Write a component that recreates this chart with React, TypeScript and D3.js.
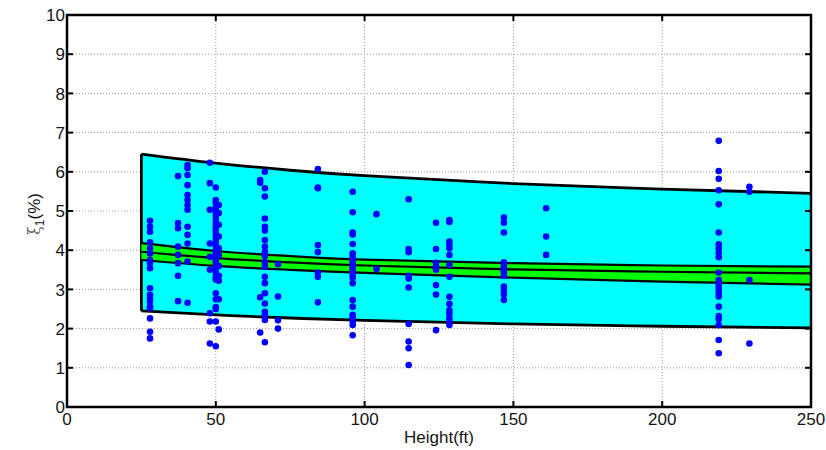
import React from "react";
import * as d3 from "d3";

const xTicks = [0, 50, 100, 150, 200, 250];
const yTicks = [0, 1, 2, 3, 4, 5, 6, 7, 8, 9, 10];

const bandHeights = [25, 50, 75, 100, 150, 200, 250];
const cyanUpper = [6.45, 6.22, 6.04, 5.9, 5.7, 5.56, 5.45];
const cyanLower = [2.45, 2.35, 2.27, 2.21, 2.12, 2.06, 2.02];
const greenUpper = [4.18, 3.98, 3.85, 3.76, 3.67, 3.61, 3.58];
const greenMiddle = [3.96, 3.8, 3.69, 3.61, 3.51, 3.45, 3.41];
const greenLower = [3.75, 3.6, 3.5, 3.42, 3.3, 3.2, 3.12];

// measured points: [height, damping list]
const col28 = [4.75, 4.6, 4.47, 4.2, 4.05, 3.92, 3.75, 3.67, 3.54, 3.03, 2.86, 2.77, 2.69, 2.56, 2.52, 2.26, 1.92, 1.75];
const col37 = [5.89, 4.69, 4.56, 4.09, 3.88, 3.67, 3.35, 2.7];
const col40 = [6.17, 6.09, 5.92, 5.66, 5.41, 5.28, 5.15, 5.03, 4.6, 4.39, 4.17, 3.71, 2.66];
const col48 = [6.23, 5.71, 5.03, 4.17, 3.83, 3.5, 2.39, 2.18, 1.62];
const col50 = [5.6, 5.28, 5.2, 5.1, 5.0, 4.9, 4.8, 4.7, 4.6, 4.5, 4.4, 4.3, 4.2, 4.1, 4.0, 3.95, 3.9, 3.85, 3.8, 3.75, 3.7, 3.6, 3.5, 3.4, 3.3, 3.25, 2.9, 2.75, 2.55, 2.5, 2.18, 1.55];
const col51 = [5.15, 4.95, 4.65, 4.35, 4.05, 3.88, 3.6, 3.35, 3.22, 2.75, 1.98];
const col65 = [5.79, 5.72, 2.8, 1.9];
const col66 = [6.0, 5.58, 5.37, 4.81, 4.6, 4.5, 4.26, 4.09, 3.95, 3.85, 3.7, 3.58, 3.32, 3.16, 2.9, 2.64, 2.43, 2.35, 2.22, 1.65];
const col71 = [3.64, 2.82, 2.21, 2.0];
const col84 = [6.07, 5.6, 5.58, 4.13, 3.95, 3.43, 3.32, 2.67];
const col96 = [5.49, 4.97, 4.45, 4.4, 4.16, 3.92, 3.85, 3.78, 3.72, 3.65, 3.58, 3.52, 3.45, 3.38, 3.3, 3.16, 2.73, 2.56, 2.35, 2.28, 2.18, 2.09, 1.83];
const col104 = [4.92, 3.52];
const col115 = [5.3, 4.03, 3.95, 3.35, 3.28, 3.05, 2.12, 1.67, 1.5, 1.07];
const col124 = [4.7, 4.03, 3.68, 3.58, 3.5, 3.11, 2.87, 1.96];
const col128 = [4.77, 4.72, 4.22, 4.15, 4.05, 3.88, 3.62, 3.32, 2.81, 2.63, 2.47, 2.38, 2.26, 2.18, 2.09];
const col147 = [4.83, 4.7, 4.45, 3.69, 3.62, 3.55, 3.45, 3.35, 3.07, 2.98, 2.87, 2.73];
const col161 = [5.07, 4.35, 3.88];
const col219 = [6.79, 6.02, 5.82, 5.53, 5.17, 4.45, 4.15, 4.05, 3.94, 3.82, 3.43, 3.24, 3.15, 3.07, 3.0, 2.9, 2.82, 2.56, 2.32, 2.24, 2.09, 1.71, 1.37];
const col229 = [5.62, 5.49, 3.24, 1.62];

const columns: [number, number[]][] = [
  [27.9, col28], [37.3, col37], [40.5, col40], [48, col48], [50, col50], [51, col51],
  [64.9, col65], [66.5, col66], [70.9, col71], [84.3, col84], [96, col96], [104, col104],
  [114.8, col115], [124, col124], [128.5, col128], [146.8, col147], [161, col161],
  [219, col219], [229.3, col229],
];

const W = 826, H = 450;
const left = 67, right = 811, top = 15, bottom = 407;

export default function App() {
  const x = d3.scaleLinear().domain([0, 250]).range([left, right]);
  const y = d3.scaleLinear().domain([0, 10]).range([bottom, top]);

  const area = (upper: number[], lower: number[]) =>
    d3.area<number>()
      .x((_, i) => x(bandHeights[i]))
      .y0((_, i) => y(lower[i]))
      .y1((_, i) => y(upper[i]))
      .curve(d3.curveNatural)(upper.map((_, i) => i)) || "";
  const line = (vals: number[]) =>
    d3.line<number>()
      .x((_, i) => x(bandHeights[i]))
      .y((v) => y(v))
      .curve(d3.curveNatural)(vals) || "";

  const points: [number, number][] = [];
  columns.forEach(([h, vs]) => vs.forEach((v) => points.push([h, v])));

  const font = "'Liberation Sans', Arial, sans-serif";
  const tickLen = 6;
  const textColor = "#151515";

  return (
    <svg width={W} height={H} style={{ position: "absolute", left: 0, top: 0, background: "#fff" }}>
      {/* grid */}
      {yTicks.filter((t) => t > 0 && t < 10).map((t) => (
        <line key={"gy" + t} x1={left} x2={right} y1={y(t)} y2={y(t)} stroke="#999" strokeWidth={1} strokeDasharray="1,2" />
      ))}
      {xTicks.filter((t) => t > 0 && t < 250).map((t) => (
        <line key={"gx" + t} x1={x(t)} x2={x(t)} y1={top} y2={bottom} stroke="#999" strokeWidth={1} strokeDasharray="1,2" />
      ))}

      {/* cyan band */}
      <path d={area(cyanUpper, cyanLower)} fill="#00ffff" stroke="none" />
      <path d={line(cyanUpper)} fill="none" stroke="#000" strokeWidth={2.8} />
      <path d={line(cyanLower)} fill="none" stroke="#000" strokeWidth={2.8} />
      <line x1={x(bandHeights[0])} x2={x(bandHeights[0])} y1={y(cyanUpper[0])} y2={y(cyanLower[0])} stroke="#000" strokeWidth={2.8} />

      {/* green band */}
      <path d={area(greenUpper, greenLower)} fill="#00ff00" stroke="none" />
      <path d={line(greenUpper)} fill="none" stroke="#000" strokeWidth={2.2} />
      <path d={line(greenMiddle)} fill="none" stroke="#000" strokeWidth={2.2} />
      <path d={line(greenLower)} fill="none" stroke="#000" strokeWidth={2.2} />

      {/* points */}
      {points.map(([h, v], i) => (
        <circle key={i} cx={x(h)} cy={y(v)} r={3.3} fill="#0000ff" />
      ))}

      {/* axes box */}
      <rect x={left} y={top} width={right - left} height={bottom - top} fill="none" stroke="#000" strokeWidth={2.5} />
      {yTicks.map((t) => (
        <g key={"ty" + t}>
          <line x1={left} x2={left + tickLen} y1={y(t)} y2={y(t)} stroke="#000" strokeWidth={2} />
          <line x1={right} x2={right - tickLen} y1={y(t)} y2={y(t)} stroke="#000" strokeWidth={2} />
          <text x={left - 2} y={y(t)} dy="0.36em" textAnchor="end" fontFamily={font} fontSize={17} fill={textColor}>{t}</text>
        </g>
      ))}
      {xTicks.map((t) => (
        <g key={"tx" + t}>
          <line x1={x(t)} x2={x(t)} y1={bottom} y2={bottom - tickLen} stroke="#000" strokeWidth={2} />
          <line x1={x(t)} x2={x(t)} y1={top} y2={top + tickLen} stroke="#000" strokeWidth={2} />
          <text x={x(t)} y={425} textAnchor="middle" fontFamily={font} fontSize={17} fill={textColor}>{t}</text>
        </g>
      ))}

      {/* axis labels */}
      <text x={(left + right) / 2} y={443} textAnchor="middle" fontFamily={font} fontSize={17} fill={textColor}>Height(ft)</text>
      <text transform={`translate(40, 214) rotate(-90)`} textAnchor="middle" fontFamily={font} fontSize={17} fill={textColor}>
        <tspan fontFamily="'DejaVu Serif', serif" fill="#666" fontSize={16}>ξ</tspan>
        <tspan fontSize={12} dy="4">1</tspan>
        <tspan dy="-4">(%)</tspan>
      </text>
    </svg>
  );
}
